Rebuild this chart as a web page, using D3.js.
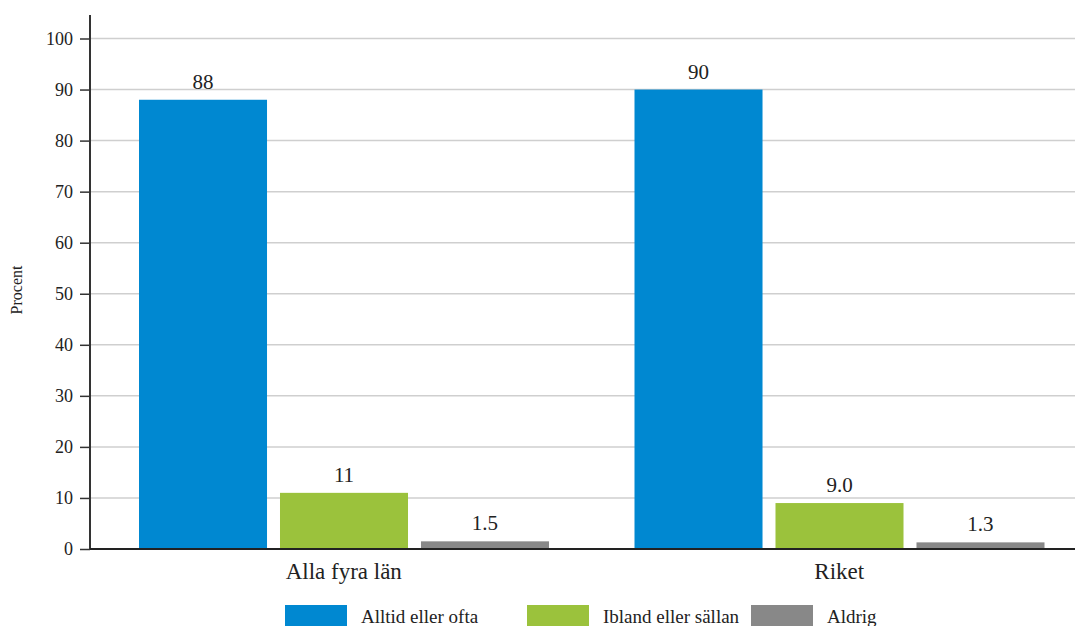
<!DOCTYPE html>
<html><head><meta charset="utf-8">
<script src="https://cdn.jsdelivr.net/npm/d3@7"></script>
<style>body{margin:0;background:#fff}svg{display:block}
svg text{font-family:"Liberation Serif","DejaVu Serif",serif !important;}</style>
</head><body>
<svg id="c" width="1081" height="626"></svg>
<script>
const categories = ["Alla fyra län", "Riket"];
const seriesNames = ["Alltid eller ofta", "Ibland eller sällan", "Aldrig"];
const alltid = [88, 90];
const ibland = [11, 9.0];
const aldrig = [1.5, 1.3];
const labels = [["88", "11", "1.5"], ["90", "9.0", "1.3"]];
const yTicks = [0, 10, 20, 30, 40, 50, 60, 70, 80, 90, 100];
const colors = ["#0088d1", "#9bc23c", "#888888"];

const svg = d3.select("#c");
const y = d3.scaleLinear().domain([0, 100]).range([549, 38.5]);
const x = d3.scaleBand().domain(categories).range([96, 1087]);
const xs = d3.scaleBand().domain(seriesNames).range([43, 453]).paddingInner(0.092);
const values = [alltid, ibland, aldrig];

// gridlines
svg.append("g").selectAll("line").data(yTicks.filter(d => d > 0)).join("line")
  .attr("x1", 90).attr("x2", 1075)
  .attr("y1", d => y(d)).attr("y2", d => y(d))
  .attr("stroke", "#cfcfcf").attr("stroke-width", 1.5);

// bars
categories.forEach((c, ci) => {
  const g = svg.append("g").attr("transform", `translate(${x(c)},0)`);
  seriesNames.forEach((s, si) => {
    const v = values[si][ci];
    g.append("rect").attr("x", xs(s)).attr("width", xs.bandwidth())
      .attr("y", y(v)).attr("height", y(0) - y(v)).attr("fill", colors[si]);
    g.append("text").attr("x", xs(s) + xs.bandwidth() / 2).attr("y", y(v) - 11)
      .attr("text-anchor", "middle").style("font-size", "21px")
      .attr("fill", "#222").text(labels[ci][si]);
  });
});

// y axis
const yAxis = d3.axisLeft(y).tickValues(yTicks).tickSize(10).tickPadding(7);
const ya = svg.append("g").attr("transform", "translate(90,0)").call(yAxis);
ya.select(".domain").remove();
ya.selectAll(".tick line").attr("stroke", "#333").attr("stroke-width", 1.5);
ya.selectAll(".tick text").style("font-size", "18px").attr("fill", "#222");
svg.append("line").attr("x1", 90).attr("x2", 90).attr("y1", 15).attr("y2", 549)
  .attr("stroke", "#333").attr("stroke-width", 2);

// x axis
const xAxis = d3.axisBottom(x).tickSize(0).tickPadding(14);
const xa = svg.append("g").attr("transform", "translate(0,549)").call(xAxis);
xa.select(".domain").remove();
xa.selectAll(".tick text").style("font-size", "23px").attr("fill", "#222")
  .attr("dy", "0.71em");
svg.append("line").attr("x1", 90).attr("x2", 1075).attr("y1", 549).attr("y2", 549)
  .attr("stroke", "#222").attr("stroke-width", 2);

// y label
svg.append("text").attr("transform", "translate(22,290) rotate(-90)")
  .attr("text-anchor", "middle").style("font-size", "16px")
  .attr("fill", "#222").text("Procent");

// legend
const legX = [285, 527, 751];
seriesNames.forEach((s, i) => {
  svg.append("rect").attr("x", legX[i]).attr("y", 605).attr("width", 62).attr("height", 22)
    .attr("fill", colors[i]);
  svg.append("text").attr("x", legX[i] + 76).attr("y", 623)
    .style("font-size", "19px").attr("fill", "#222").text(s);
});
</script>
</body></html>
